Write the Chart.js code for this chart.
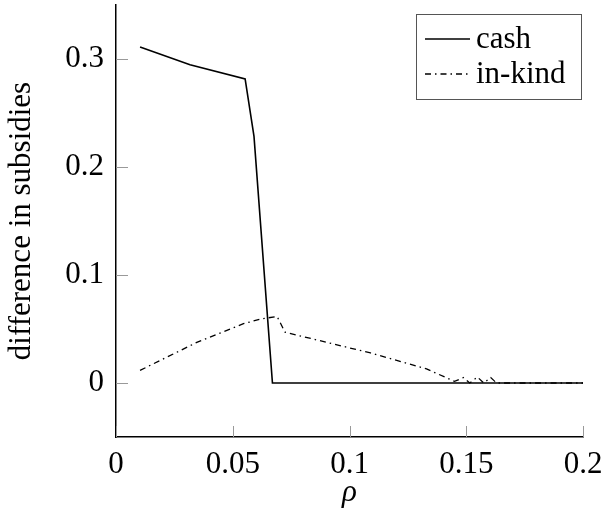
<!DOCTYPE html>
<html>
<head>
<meta charset="utf-8">
<script src="https://cdn.jsdelivr.net/npm/chart.js@4.4.0/dist/chart.umd.min.js"></script>
<style>
  html, body { margin: 0; padding: 0; background: #fff; }
  #wrap { width: 611px; height: 512px; }
</style>
</head>
<body>
<div id="wrap"><canvas id="chart"></canvas></div>
<script>
const cashX   = [0.0103, 0.0317, 0.0553, 0.0591, 0.0670, 0.2];
const cashY   = [0.311, 0.2947, 0.2815, 0.2283, 0.0, 0.0];

const inkindX = [0.0103, 0.0346, 0.0546, 0.0624, 0.0690, 0.0724, 0.109, 0.133, 0.145, 0.1488, 0.1515, 0.1548, 0.1575, 0.1605, 0.163, 0.2];
const inkindY = [0.0117, 0.0376, 0.0549, 0.0595, 0.0615, 0.047, 0.0278, 0.013, 0.0015, 0.005, 0.0, 0.0055, 0.0, 0.005, 0.0, 0.0];

const xTicks = [0, 0.05, 0.1, 0.15, 0.2];
const yTicks = [0, 0.1, 0.2, 0.3];

const seriesNames = ["cash", "in-kind"];

const FONT = "'Liberation Serif', 'DejaVu Serif', serif";
const FSIZE = 31;

const toPoints = (xs, ys) => xs.map((x, i) => ({ x: x, y: ys[i] }));

// ticks pointing into the plot, like pgfplots does
const innerTicks = {
    id: 'innerTicks',
    afterDatasetsDraw(chart) {
        const c = chart.ctx;
        const area = chart.chartArea;
        const sx = chart.scales.x;
        const sy = chart.scales.y;
        c.save();
        c.strokeStyle = '#999';
        c.lineWidth = 1;
        c.beginPath();
        xTicks.forEach(v => {
            const px = Math.round(sx.getPixelForValue(v)) + 0.5;
            c.moveTo(px, area.bottom);
            c.lineTo(px, area.bottom - 11);
        });
        yTicks.forEach(v => {
            const py = Math.round(sy.getPixelForValue(v)) + 0.5;
            c.moveTo(area.left, py);
            c.lineTo(area.left + 12, py);
        });
        c.stroke();
        c.restore();
    }
};

// framed legend in the upper right corner
const boxLegend = {
    id: 'boxLegend',
    afterDraw(chart) {
        const c = chart.ctx;
        const left = 416, top = 14, w = 165, h = 85;
        c.save();
        c.fillStyle = '#fff';
        c.fillRect(left, top, w, h);
        c.strokeStyle = '#555';
        c.lineWidth = 1;
        c.strokeRect(left + 0.5, top + 0.5, w, h);
        c.font = FSIZE + "px " + FONT;
        c.textBaseline = 'middle';
        chart.data.datasets.forEach((ds, i) => {
            const y = top + 25 + i * 35;
            c.strokeStyle = ds.borderColor;
            c.lineWidth = ds.borderWidth;
            c.setLineDash(ds.borderDash || []);
            c.beginPath();
            c.moveTo(left + 9, y);
            c.lineTo(left + 54, y);
            c.stroke();
            c.setLineDash([]);
            c.fillStyle = '#000';
            c.fillText(ds.label, left + 60, y + 1);
        });
        c.restore();
    }
};

new Chart(document.getElementById('chart'), {
    type: 'line',
    data: {
        datasets: [{
            label: seriesNames[0],
            data: toPoints(cashX, cashY),
            borderColor: '#000',
            borderWidth: 1.6,
            pointRadius: 0,
            tension: 0
        }, {
            label: seriesNames[1],
            data: toPoints(inkindX, inkindY),
            borderColor: '#000',
            borderWidth: 1.3,
            borderDash: [6, 4, 1.5, 4],
            pointRadius: 0,
            tension: 0
        }]
    },
    options: {
        responsive: true,
        maintainAspectRatio: false,
        animation: false,
        layout: { padding: { left: 0, right: 28, top: 5, bottom: 0 } },
        plugins: { legend: { display: false }, tooltip: { enabled: false } },
        scales: {
            x: {
                type: 'linear',
                min: 0,
                max: 0.2,
                afterBuildTicks: (s) => { s.ticks = xTicks.map(v => ({ value: v })); },
                afterFit: (s) => { s.height = 75; s.paddingLeft = 0; s.paddingRight = 0; },
                grid: { drawOnChartArea: false, drawTicks: false },
                border: { color: '#000', width: 1.5 },
                ticks: {
                    color: '#000',
                    maxRotation: 0,
                    autoSkip: false,
                    padding: 9,
                    font: { family: FONT, size: FSIZE },
                    callback: (v) => String(v)
                },
                title: {
                    display: true,
                    text: 'ρ',
                    color: '#000',
                    padding: { top: 0, bottom: 1 },
                    font: { family: FONT, size: FSIZE, style: 'italic' }
                }
            },
            y: {
                type: 'linear',
                min: -0.05,
                max: 0.35,
                afterBuildTicks: (s) => { s.ticks = yTicks.map(v => ({ value: v })); },
                afterFit: (s) => { s.width = 116; s.paddingTop = 0; s.paddingBottom = 0; },
                grid: { drawOnChartArea: false, drawTicks: false },
                border: { color: '#000', width: 1.5 },
                ticks: {
                    color: '#000',
                    padding: 12,
                    font: { family: FONT, size: FSIZE },
                    callback: (v) => String(v)
                },
                title: {
                    display: true,
                    text: 'difference in subsidies',
                    color: '#000',
                    padding: { top: 3, bottom: 0 },
                    font: { family: FONT, size: FSIZE }
                }
            }
        }
    },
    plugins: [innerTicks, boxLegend]
});
</script>
</body>
</html>
